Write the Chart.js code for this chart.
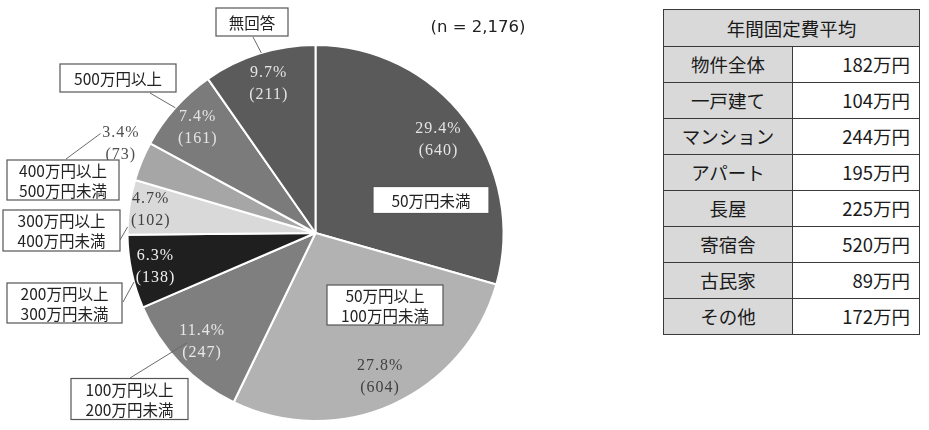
<!DOCTYPE html>
<html>
<head>
<meta charset="utf-8">
<script src="https://cdn.jsdelivr.net/npm/chart.js@4.4.0/dist/chart.umd.min.js"></script>
<style>
  html, body { margin: 0; padding: 0; background: #fff; }
  #wrap { position: relative; width: 929px; height: 430px; overflow: hidden; }
  #pie { position: absolute; left: 0; top: 0; }
  #costTable {
    position: absolute; left: 663px; top: 9px;
    border-collapse: collapse;
    font-family: "Noto Sans CJK JP", sans-serif;
    font-size: 18.5px; color: #1a1a1a;
  }
  #costTable td, #costTable th {
    border: 1.5px solid #3a3a3a;
    height: 35px; padding: 0 9px; font-weight: normal; line-height: 1;
  }
  #costTable th { background: #d9d9d9; text-align: center; height: 36px; }
  #costTable td.type { background: #d9d9d9; text-align: center; width: 110px; }
  #costTable td.cost { background: #fff; text-align: right; width: 108px; }
</style>
</head>
<body>
<div id="wrap">
  <canvas id="pie" width="640" height="430"></canvas>
  <table id="costTable"></table>
</div>
<script>
// 年間固定費の分布（円グラフ）
const categories = ['50万円未満', '50万円以上\n100万円未満', '100万円以上\n200万円未満', '200万円以上\n300万円未満',
                    '300万円以上\n400万円未満', '400万円以上\n500万円未満', '500万円以上', '無回答'];
const counts   = [640, 604, 247, 138, 102, 73, 161, 211];
const pctText  = ['29.4%', '27.8%', '11.4%', '6.3%', '4.7%', '3.4%', '7.4%', '9.7%'];
const sampleN  = '(n = 2,176)';

// 右側の表
const tableTitle = '年間固定費平均';
const tableTypes = ['物件全体', '一戸建て', 'マンション', 'アパート', '長屋', '寄宿舎', '古民家', 'その他'];
const tableCosts = ['182万円', '104万円', '244万円', '195万円', '225万円', '520万円', '89万円', '172万円'];

const sliceColors = ['#5a5a5a', '#b2b2b2', '#7f7f7f', '#1f1f1f', '#d9d9d9', '#a6a6a6', '#7b7b7b', '#5b5b5b'];
const labelColors = ['#e4e4e4', '#404040', '#e8e8e8', '#f0f0f0', '#404040', '#505050', '#e4e4e4', '#e4e4e4'];
// 値ラベルの位置: 半径比と扇形内の角度位置(0..1)
const labelRadius = [0.82, 0.84, 0.835, 0.87, 0.885, 1.14, 0.84, 0.83];
const labelT      = [0.5, 0.5, 0.5, 0.5, 0.5, 0.69, 0.5, 0.5];

// 吹き出し枠: 枠中心, 幅, 高さ, 引出線の起点, 扇形上の位置(t)と半径比(r)
const callouts = [
  { cx: 431, cy: 200, w: 116, h: 27 },
  { cx: 385, cy: 305, w: 116, h: 40 },
  { cx: 129.5, cy: 399, w: 117, h: 41, from: [130, 378], t: 0.58, r: 0.9 },
  { cx: 64.5, cy: 303, w: 115, h: 40, from: [123, 302], t: 0.36, r: 1.0 },
  { cx: 61.5, cy: 230.5, w: 117, h: 41, from: [120, 240], t: 0.14, r: 1.0 },
  { cx: 63, cy: 180, w: 112, h: 40, from: [66, 159], t: 0.7, r: 1.26 },
  { cx: 118, cy: 78, w: 116, h: 28, from: [150, 93], t: 0.5, r: 1.0 },
  { cx: 252, cy: 22, w: 72, h: 28, from: [253, 37], t: 0.52, r: 1.0 }
];

function buildTable() {
  const tbl = document.getElementById('costTable');
  let html = '<tr><th colspan="2">' + tableTitle + '</th></tr>';
  tableTypes.forEach((t, i) => {
    html += '<tr><td class="type">' + t + '</td><td class="cost">' + tableCosts[i] + '</td></tr>';
  });
  tbl.innerHTML = html;
}

const labelPlugin = {
  id: 'pieLabels',
  afterDatasetsDraw(chart) {
    const ctx = chart.ctx;
    const arcs = chart.getDatasetMeta(0).data;
    ctx.save();

    arcs.forEach((arc, i) => {
      const p = arc.getProps(['x', 'y', 'startAngle', 'endAngle', 'outerRadius'], true);
      const ang = p.startAngle + (p.endAngle - p.startAngle) * labelT[i];
      const rr = p.outerRadius * labelRadius[i];
      const lx = p.x + Math.cos(ang) * rr;
      const ly = p.y + Math.sin(ang) * rr;
      ctx.fillStyle = labelColors[i];
      ctx.font = '16px "Liberation Serif", serif';
      ctx.letterSpacing = '1px';
      ctx.textAlign = 'center';
      ctx.textBaseline = 'middle';
      ctx.fillText(pctText[i], lx, ly - 11);
      ctx.fillText('(' + counts[i] + ')', lx, ly + 11);
      ctx.letterSpacing = '0px';

      // 引出線
      const c = callouts[i];
      if (c.from) {
        const a = p.startAngle + (p.endAngle - p.startAngle) * c.t;
        const ex = p.x + Math.cos(a) * p.outerRadius * c.r;
        const ey = p.y + Math.sin(a) * p.outerRadius * c.r;
        ctx.strokeStyle = '#6a6a6a';
        ctx.lineWidth = 1;
        ctx.beginPath();
        ctx.moveTo(c.from[0], c.from[1]);
        ctx.lineTo(ex, ey);
        ctx.stroke();
      }

      // 吹き出し枠
      ctx.fillStyle = '#fff';
      ctx.fillRect(c.cx - c.w / 2, c.cy - c.h / 2, c.w, c.h);
      ctx.strokeStyle = '#555';
      ctx.lineWidth = 1.2;
      ctx.strokeRect(c.cx - c.w / 2, c.cy - c.h / 2, c.w, c.h);
      ctx.fillStyle = '#222';
      ctx.font = '15.5px "Noto Sans CJK JP", sans-serif';
      const lines = categories[i].split('\n');
      lines.forEach((ln, k) => {
        ctx.fillText(ln, c.cx, c.cy + (k - (lines.length - 1) / 2) * 20 + 1);
      });
    });

    ctx.fillStyle = '#222';
    ctx.font = '16.5px "DejaVu Sans", sans-serif';
    ctx.textAlign = 'center';
    ctx.fillText(sampleN, 478, 28);
    ctx.restore();
  }
};

document.addEventListener('DOMContentLoaded', function() {
  buildTable();
  const ctx = document.getElementById('pie').getContext('2d');
  new Chart(ctx, {
    type: 'pie',
    data: {
      labels: categories,
      datasets: [{
        data: counts,
        backgroundColor: sliceColors,
        borderColor: '#ffffff',
        borderWidth: 2,
        radius: 188
      }]
    },
    options: {
      responsive: false,
      animation: false,
      devicePixelRatio: 1,
      layout: { padding: { left: 127, right: 136, top: 45, bottom: 9 } },
      plugins: {
        legend: { display: false },
        tooltip: { enabled: false }
      }
    },
    plugins: [labelPlugin]
  });
});
</script>
</body>
</html>
